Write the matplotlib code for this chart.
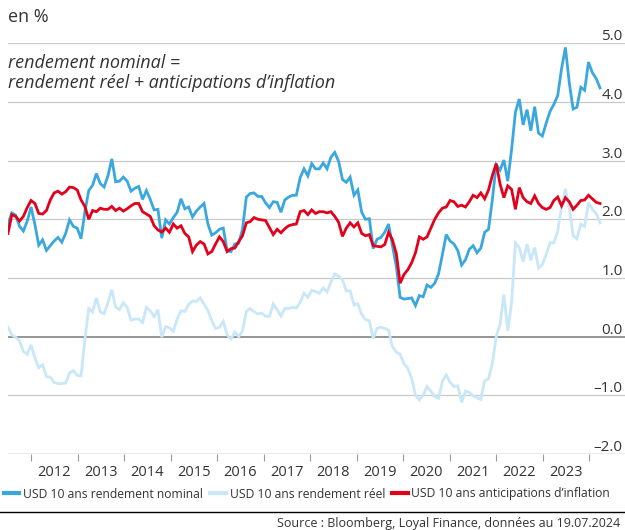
import numpy as np
import pandas as pd
import matplotlib
matplotlib.use("Agg")
import matplotlib.pyplot as plt
import matplotlib.transforms as mtransforms
from matplotlib.lines import Line2D

plt.rcParams["font.family"] = ["Open Sans", "DejaVu Sans"]

# ----------------------------
# Data (month-end, Sep 2011 -> 19.07.2024)
# ----------------------------
months = pd.date_range("2011-09-30", periods=155, freq="ME")

nominal = [
    1.92, 2.11, 2.07, 1.88, 1.80, 1.97, 2.21, 1.91, 1.56, 1.65, 1.47, 1.55,
    1.63, 1.69, 1.61, 1.76, 1.99, 1.88, 1.85, 1.67, 2.13, 2.49, 2.58, 2.78,
    2.61, 2.55, 2.74, 3.03, 2.64, 2.65, 2.72, 2.65, 2.48, 2.53, 2.56, 2.34,
    2.49, 2.34, 2.16, 2.17, 1.68, 1.99, 1.92, 2.03, 2.12, 2.35, 2.18, 2.21,
    2.04, 2.14, 2.21, 2.27, 1.92, 1.73, 1.77, 1.83, 1.85, 1.47, 1.45, 1.58,
    1.59, 1.83, 2.38, 2.44, 2.45, 2.39, 2.39, 2.28, 2.20, 2.30, 2.29, 2.12,
    2.33, 2.38, 2.41, 2.41, 2.71, 2.86, 2.74, 2.95, 2.86, 2.86, 2.96, 2.86,
    3.06, 3.14, 2.99, 2.68, 2.63, 2.72, 2.41, 2.50, 2.12, 2.00, 2.01, 1.50,
    1.66, 1.69, 1.78, 1.92, 1.55, 1.20, 0.67, 0.64, 0.65, 0.66, 0.53, 0.70,
    0.68, 0.88, 0.84, 0.91, 1.07, 1.40, 1.74, 1.63, 1.58, 1.47, 1.22, 1.31,
    1.49, 1.55, 1.43, 1.51, 1.78, 1.83, 2.34, 2.93, 2.84, 3.01, 2.65, 3.19,
    3.83, 4.05, 3.61, 3.87, 3.51, 3.92, 3.47, 3.42, 3.64, 3.84, 3.96, 4.11,
    4.57, 4.93, 4.33, 3.88, 3.91, 4.25, 4.20, 4.68, 4.50, 4.40, 4.24,
]

real = [
    0.16, 0.03, -0.01, -0.07, -0.25, -0.30, -0.14, -0.36, -0.53, -0.48, -0.68, -0.69,
    -0.78, -0.80, -0.80, -0.79, -0.62, -0.58, -0.66, -0.67, -0.05, 0.48, 0.42, 0.66,
    0.42, 0.39, 0.58, 0.80, 0.50, 0.46, 0.58, 0.50, 0.28, 0.30, 0.30, 0.24,
    0.50, 0.44, 0.34, 0.46, -0.01, 0.17, 0.15, 0.09, 0.30, 0.44, 0.43, 0.55,
    0.61, 0.60, 0.66, 0.55, 0.45, 0.27, 0.14, 0.16, 0.26, 0.03, -0.04, 0.08,
    0.00, 0.10, 0.43, 0.48, 0.42, 0.39, 0.40, 0.35, 0.34, 0.56, 0.46, 0.35,
    0.48, 0.48, 0.50, 0.49, 0.58, 0.74, 0.67, 0.79, 0.77, 0.74, 0.83, 0.76,
    0.93, 1.07, 1.03, 0.97, 0.78, 0.78, 0.54, 0.56, 0.38, 0.29, 0.27, -0.03,
    0.14, 0.16, 0.14, 0.11, -0.17, -0.26, -0.30, -0.46, -0.54, -0.71, -1.00, -1.08,
    -1.00, -0.85, -0.93, -1.02, -1.05, -0.76, -0.65, -0.78, -0.85, -0.84, -1.12, -0.93,
    -0.95, -1.01, -1.04, -1.07, -0.75, -0.72, -0.45, 0.00, 0.21, 0.72, 0.10, 0.58,
    1.60, 1.52, 1.28, 1.58, 1.30, 1.52, 1.17, 1.23, 1.40, 1.60, 1.60, 1.80,
    2.20, 2.52, 2.20, 1.72, 1.67, 1.92, 1.88, 2.28, 2.17, 2.10, 1.94,
]

inflation = [
    1.76, 2.08, 2.05, 1.97, 2.05, 2.20, 2.32, 2.27, 2.10, 2.09, 2.15, 2.33,
    2.45, 2.48, 2.43, 2.47, 2.55, 2.54, 2.50, 2.33, 2.22, 2.00, 2.15, 2.13,
    2.19, 2.17, 2.17, 2.22, 2.15, 2.19, 2.14, 2.18, 2.23, 2.27, 2.27, 2.13,
    2.09, 2.05, 1.89, 1.82, 1.78, 1.85, 1.78, 1.92, 1.85, 1.89, 1.76, 1.70,
    1.45, 1.56, 1.62, 1.58, 1.41, 1.45, 1.58, 1.70, 1.62, 1.45, 1.50, 1.51,
    1.62, 1.72, 1.94, 1.96, 2.03, 2.00, 1.99, 1.98, 1.86, 1.74, 1.83, 1.77,
    1.84, 1.89, 1.91, 1.92, 2.13, 2.15, 2.08, 2.16, 2.10, 2.13, 2.13, 2.11,
    2.13, 2.05, 1.95, 1.71, 1.85, 1.94, 1.87, 1.94, 1.76, 1.72, 1.74, 1.55,
    1.54, 1.53, 1.57, 1.78, 1.65, 1.42, 0.91, 1.06, 1.14, 1.26, 1.43, 1.70,
    1.66, 1.70, 1.85, 2.00, 2.11, 2.19, 2.21, 2.32, 2.30, 2.22, 2.24, 2.21,
    2.30, 2.41, 2.37, 2.45, 2.35, 2.50, 2.75, 2.95, 2.60, 2.37, 2.57, 2.51,
    2.17, 2.54, 2.37, 2.30, 2.27, 2.40, 2.27, 2.20, 2.17, 2.20, 2.32, 2.38,
    2.23, 2.37, 2.30, 2.17, 2.24, 2.32, 2.33, 2.41, 2.35, 2.29, 2.27,
]

year_labels = ["2012", "2013", "2014", "2015", "2016", "2017",
               "2018", "2019", "2020", "2021", "2022", "2023"]
y_ticks = [5.0, 4.0, 3.0, 2.0, 1.0, 0.0, -1.0, -2.0]

series_labels = [
    "USD 10 ans rendement nominal",
    "USD 10 ans rendement réel",
    "USD 10 ans anticipations d’inflation",
]
c_nominal = "#3aa7df"
c_real = "#c8e7f8"
c_infl = "#e2001a"
text_col = "#333333"

# ----------------------------
# Figure
# ----------------------------
W, H = 625, 530
fig = plt.figure(figsize=(W / 100, H / 100), dpi=100)
ax = fig.add_axes([8 / W, (H - 454) / H, 617 / W, (454 - 43.3) / H])

x = np.arange(len(months))

# gridlines
for v in y_ticks:
    if v == 0:
        ax.axhline(v, color="#8c8c8c", lw=1.3, zorder=1)
    elif v == -2:
        ax.axhline(v, color="#9a9a9a", lw=1.0, zorder=1)
    else:
        ax.axhline(v, color="#c9c9c9", lw=0.9, zorder=1)

ax.plot(x, real, color=c_real, lw=2.0, zorder=2, solid_joinstyle="miter")
ax.plot(x, nominal, color=c_nominal, lw=2.0, zorder=3, solid_joinstyle="miter")
ax.plot(x, inflation, color=c_infl, lw=2.0, zorder=4, solid_joinstyle="miter")

ax.set_xlim(0, 160.5)
ax.set_ylim(-2, 5)

for s in ax.spines.values():
    s.set_visible(False)

# x ticks (year boundaries as drawn in the source chart)
tick_start, tick_step = 6.0, 12.1
bounds = [tick_start + i * tick_step for i in range(len(year_labels) + 1)]
mids = [(a + b) / 2 for a, b in zip(bounds[:-1], bounds[1:])]
ax.set_xticks(bounds)
ax.set_xticklabels([])
ax.set_xticks(mids, minor=True)
ax.set_xticklabels(year_labels, minor=True)
ax.tick_params(axis="x", which="major", length=5, width=0.8, color="#9a9a9a", direction="out")
ax.tick_params(axis="x", which="minor", length=0, labelsize=10.5, labelcolor=text_col, pad=8)
ax.set_yticks([])

# y labels on the right, above the gridlines
trans = mtransforms.blended_transform_factory(ax.transAxes, ax.transData)
for v in y_ticks:
    lab = f"{v:.1f}".replace("-", "\u2013")
    ax.text(0.996, v + 0.05, lab, transform=trans, ha="right", va="baseline",
            fontsize=11, color=text_col, clip_on=False)

# titles
fig.text(8 / W, 1 - 17 / H, "en %", ha="left", va="center", fontsize=13, color=text_col)
fig.text(8 / W, 1 - 73 / H,
         "rendement nominal =\nrendement réel + anticipations d’inflation",
         ha="left", va="center", fontsize=13, style="italic", color=text_col,
         linespacing=1.1)

# legend
handles = [Line2D([], [], color=c, lw=3) for c in (c_nominal, c_real, c_infl)]
fig.legend(handles, series_labels, loc="center left", bbox_to_anchor=(0.006, 1 - 494 / H),
           ncol=3, frameon=False, fontsize=8.7, handlelength=1.3, handletextpad=0.3,
           columnspacing=0.6, borderaxespad=0, borderpad=0, labelcolor=text_col)

fig.add_artist(Line2D([0, 1], [1 - 512 / H, 1 - 512 / H], transform=fig.transFigure,
                      color="black", lw=1.0))
fig.text(620 / W, 1 - 524 / H, "Source : Bloomberg, Loyal Finance, données au 19.07.2024",
         ha="right", va="center", fontsize=9, color=text_col)

fig.savefig("out.png", dpi=100)
